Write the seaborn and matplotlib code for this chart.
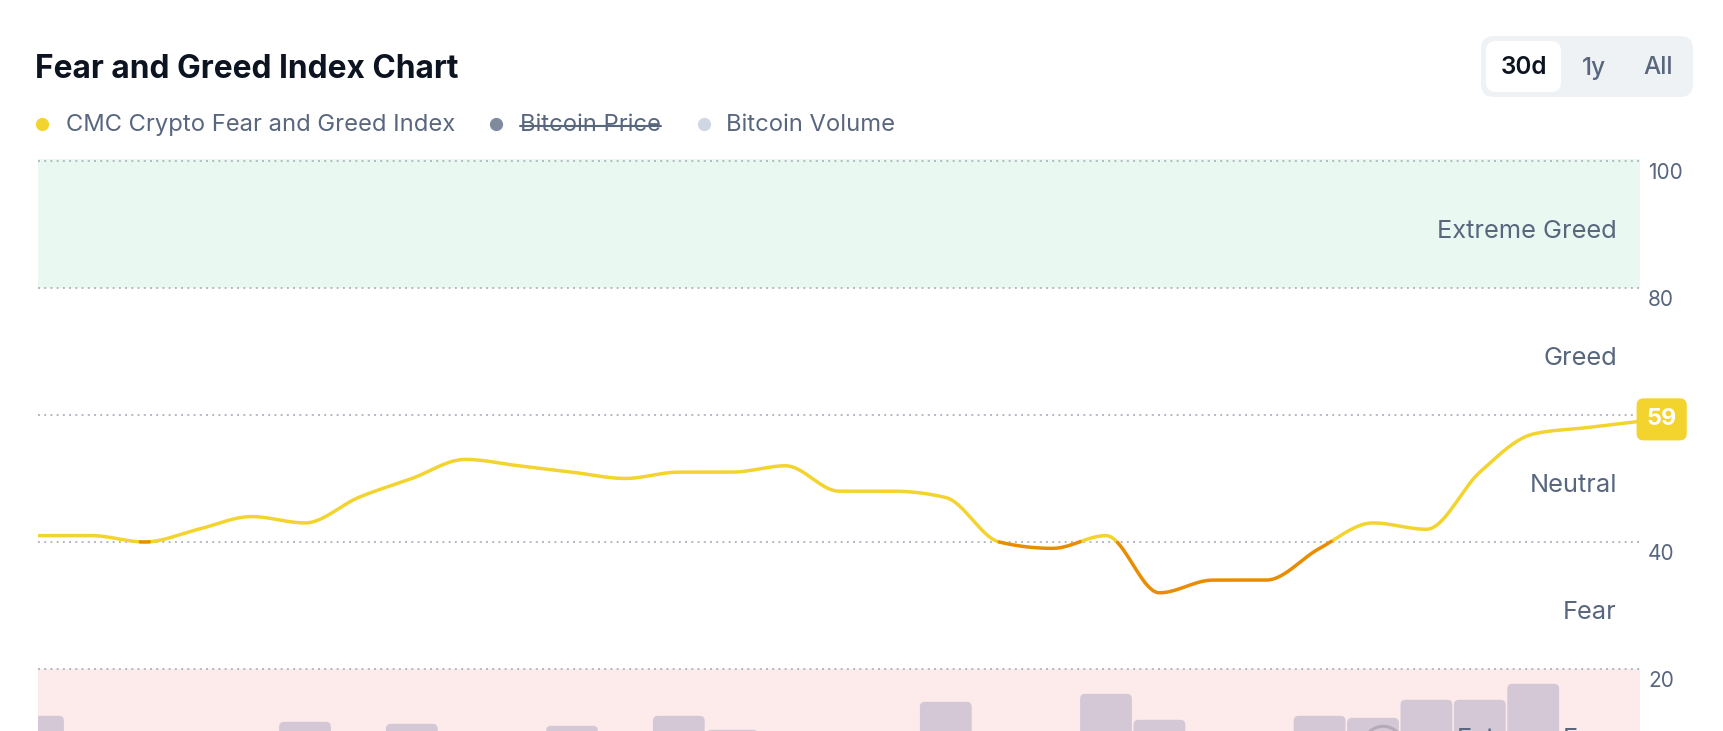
import numpy as np
import pandas as pd
import matplotlib
matplotlib.use("Agg")
import matplotlib.pyplot as plt
import seaborn as sns
from matplotlib.patches import FancyBboxPatch

# ---------------- data ----------------
days = list(range(31))
fear_greed = [41, 41, 40, 42, 44, 43, 47, 50, 53, 52, 51, 50, 51, 51, 52, 48,
              48, 47, 40, 39, 41, 32, 34, 34, 39, 43, 42, 51, 57, 58, 59]
btc_volume_b = [33.8, 26, 25, 27, 28, 32.3, 27, 31.8, 28, 26, 31.3, 24, 33.8,
                30.3, 22, 21, 25, 37.3, 29, 28, 39.3, 32.8, 27, 29, 33.8, 33.3,
                37.8, 37.8, 41.8, 28, 25]
zone_names = ["Extreme Fear", "Fear", "Neutral", "Greed", "Extreme Greed"]
zone_edges = [0, 20, 40, 60, 80, 100]
tick_values = [20, 40, 60, 80, 100]
legend_labels = ["CMC Crypto Fear and Greed Index", "Bitcoin Price", "Bitcoin Volume"]
range_buttons = ["30d", "1y", "All"]
title = "Fear and Greed Index Chart"

# ---------------- style ----------------
sns.set_theme(style="white")
plt.rcParams["font.family"] = ["Inter", "DejaVu Sans"]
LABEL = "#58667E"
DARK = "#0D1421"
YELLOW = "#F3D42F"
ORANGE = "#EA8C00"
GREEN_BAND = "#E9F8F1"
PINK_BAND = "#FDEBEC"
BAR = "#D4C8D6"
GRID = "#B4B8C0"
legend_colors = [YELLOW, "#808A9D", "#CFD6E4"]


def monotone_x(x, y, per=60):
    """d3 curveMonotoneX style cubic interpolation for drawing."""
    x = np.asarray(x, float)
    y = np.asarray(y, float)
    n = len(x)
    h = np.diff(x)
    s = np.diff(y) / h
    m = np.zeros(n)
    for k in range(1, n - 1):
        s0, s1 = s[k - 1], s[k]
        p = (s0 * h[k] + s1 * h[k - 1]) / (h[k - 1] + h[k])
        m[k] = (np.sign(s0) + np.sign(s1)) * min(abs(s0), abs(s1), 0.5 * abs(p))
    m[0] = (3 * s[0] - m[1]) / 2
    m[-1] = (3 * s[-1] - m[-2]) / 2
    xs, ys = [], []
    for k in range(n - 1):
        t = np.linspace(0, 1, per, endpoint=(k == n - 2))
        h00 = 2 * t**3 - 3 * t**2 + 1
        h10 = t**3 - 2 * t**2 + t
        h01 = -2 * t**3 + 3 * t**2
        h11 = t**3 - t**2
        xs.append(x[k] + t * h[k])
        ys.append(h00 * y[k] + h10 * h[k] * m[k] + h01 * y[k + 1] + h11 * h[k] * m[k + 1])
    return np.concatenate(xs), np.concatenate(ys)


W, H = 1724, 731
fig = plt.figure(figsize=(W / 100, H / 100), dpi=100)
fig.patch.set_facecolor("white")
L, R, T, B = 38, 1640, 159, 731
ax = fig.add_axes([L / W, 1 - B / H, (R - L) / W, (B - T) / H])
ax.set_xlim(0, 30)
ax.set_ylim(10.24, 100.3)
ax.axis("off")

# zone bands
ax.axhspan(80, 120, color=GREEN_BAND, zorder=0, lw=0)
ax.axhspan(-10, 20, color=PINK_BAND, zorder=0, lw=0)

# dotted gridlines
for v in tick_values:
    ax.axhline(v, color=GRID, lw=1.4, ls=(0, (1, 2.2)), zorder=1)

# line coloured by zone
xs, ys = monotone_x(days, fear_greed)
zone = np.where(ys < 40.02, "fear", "neutral")
seg = np.concatenate([[0], np.cumsum(zone[1:] != zone[:-1])])
df = pd.DataFrame({"x": xs, "v": ys, "zone": zone, "seg": seg})
chg = df.index[df["seg"].diff() == 1]
extra = df.loc[chg].copy()
extra["zone"] = df["zone"].shift(1).loc[chg].values
extra["seg"] = extra["seg"] - 1
df2 = pd.concat([df, extra]).sort_values(["seg", "x"]).reset_index(drop=True)
sns.lineplot(data=df2, x="x", y="v", hue="zone", units="seg", estimator=None,
             palette={"fear": ORANGE, "neutral": YELLOW}, lw=2.5, legend=False,
             ax=ax, zorder=4, solid_capstyle="round")
ax.set_xlim(0, 30)
ax.set_ylim(10.24, 100.3)
ax.axis("off")

# right tick labels
for v in tick_values:
    ax.annotate(str(v), xy=(1, v), xycoords=("axes fraction", "data"),
                xytext=(5.8, -8.8), textcoords="offset points", ha="left",
                va="center", fontsize=15, color=LABEL, annotation_clip=False)

# volume bars on twin axis
ax_v = ax.twinx()
vol_df = pd.DataFrame({"day": days, "volume": btc_volume_b})
sns.barplot(data=vol_df, x="day", y="volume", native_scale=True, width=0.97,
            color=BAR, saturation=1, ax=ax_v)
ax_v.set_ylim(30, 30 + (B - T) / 4)
ax.set_xlim(0, 30)
ax_v.set_xlim(0, 30)
ax_v.axis("off")

px_x = (R - L) / 30
px_v = (B - T) / (ax_v.get_ylim()[1] - ax_v.get_ylim()[0])
for p in list(ax_v.patches):
    x0, y0, w, h = p.get_x(), p.get_y(), p.get_width(), p.get_height()
    p.remove()
    ax_v.add_patch(FancyBboxPatch((x0, y0), w, h,
                                  boxstyle=f"round,pad=0,rounding_size={5 / px_x}",
                                  mutation_aspect=px_x / px_v, fc=BAR, ec="none",
                                  zorder=2))

# faint watermark circle at the bottom
ax_v.scatter([25.19], [26.2], s=820, facecolors="none", edgecolors="#B5AABA",
             linewidths=2.2, zorder=3, clip_on=True)

# zone labels
for name, lo, hi in zip(zone_names, zone_edges[:-1], zone_edges[1:]):
    ax_v.annotate(name, xy=(1, (lo + hi) / 2), xycoords=ax.get_yaxis_transform(),
                  xytext=(-16.6, -5.2), textcoords="offset points", ha="right",
                  va="center", fontsize=18.3, color=LABEL, zorder=6,
                  annotation_clip=False)

# current value badge
ax_v.annotate(str(fear_greed[-1]), xy=(1, fear_greed[-1]),
              xycoords=ax.get_yaxis_transform(), xytext=(15.6, 1.4),
              textcoords="offset points", ha="center", va="center",
              fontsize=16.8, fontweight="bold", color="white", zorder=10,
              bbox=dict(boxstyle="round,pad=0.43,rounding_size=0.3", fc=YELLOW, ec="none"),
              annotation_clip=False)

# ---------------- header overlay ----------------
hdr = fig.add_axes([0, 0, 1, 1], zorder=5)
hdr.set_xlim(0, W)
hdr.set_ylim(H, 0)
hdr.axis("off")
hdr.patch.set_visible(False)

hdr.text(35, 69, title, fontsize=22.8, fontweight="bold", color=DARK,
         ha="left", va="center")

dot_x = [42, 496, 704]
text_x = [66, 520, 726]
renderer = fig.canvas.get_renderer()
for lbl, col, dx, tx in zip(legend_labels, legend_colors, dot_x, text_x):
    hdr.scatter([dx], [124], s=72, color=col, zorder=3)
    t = hdr.text(tx, 125, lbl, fontsize=17.1, color=LABEL, ha="left", va="center")
    if lbl == "Bitcoin Price":
        bb = t.get_window_extent(renderer).transformed(hdr.transData.inverted())
        hdr.plot([bb.x0, bb.x1], [125.5, 125.5], color=LABEL, lw=1.5)

hdr.add_patch(FancyBboxPatch((1481, 36), 212, 61,
                             boxstyle="round,pad=0,rounding_size=13",
                             fc="#EFF2F5", ec="none"))
hdr.add_patch(FancyBboxPatch((1486, 41), 75, 51,
                             boxstyle="round,pad=0,rounding_size=10",
                             fc="white", ec="none"))
for lbl, bx in zip(range_buttons, [1524, 1594, 1658]):
    sel = lbl == "30d"
    hdr.text(bx, 68, lbl, fontsize=17.5, fontweight="semibold" if sel else "medium",
             color=DARK if sel else LABEL, ha="center", va="center")

fig.savefig("out.png", dpi=100, facecolor="white")
